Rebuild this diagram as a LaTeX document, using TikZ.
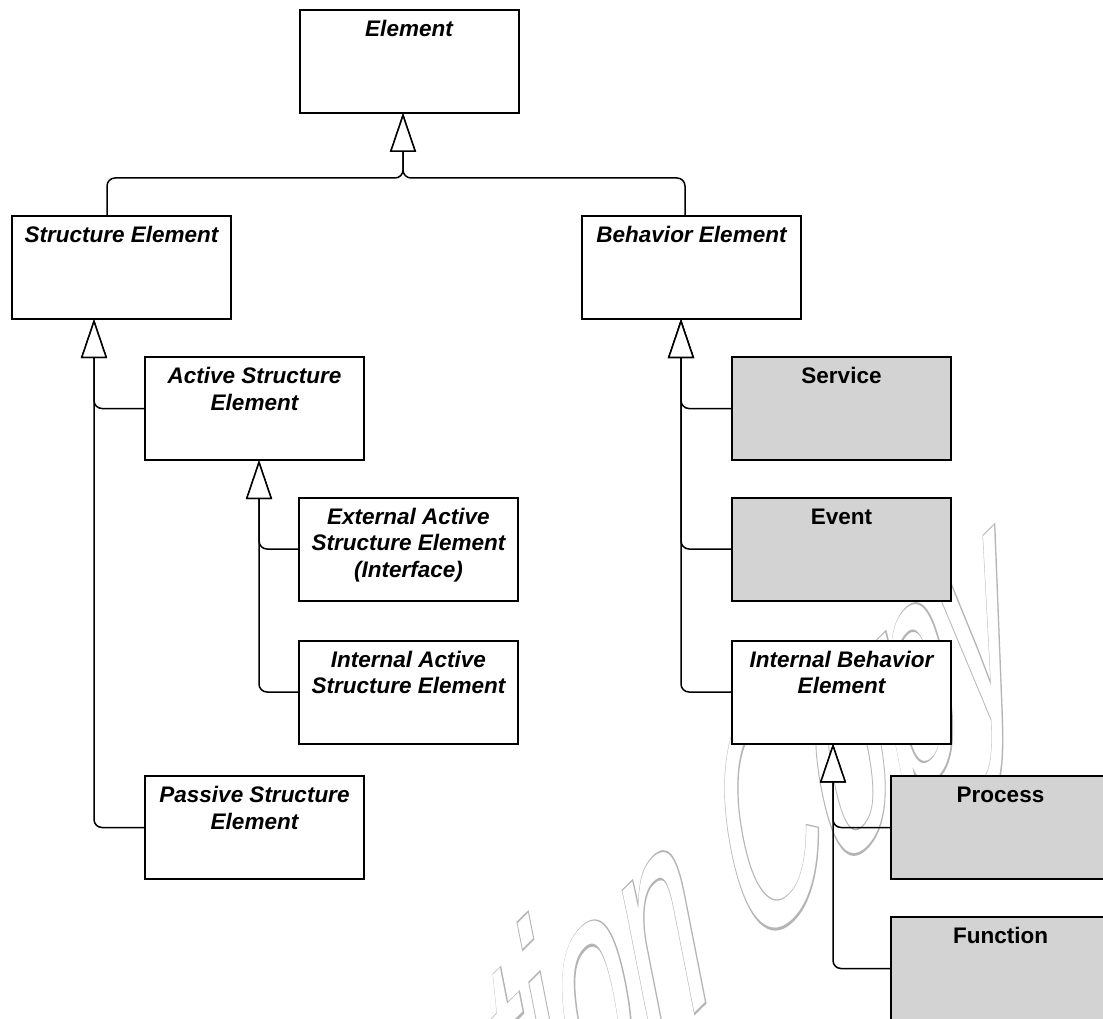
\documentclass[tikz,border=0pt]{standalone}
\usepackage{fontspec}
\setmainfont{Liberation Sans}
\usetikzlibrary{arrows.meta}

\definecolor{concretefill}{RGB}{211,211,211}
\definecolor{wmgray}{RGB}{180,180,180}

% watermark faces: a stroked (emboldened) one for the rim, a plain one for the inside
\font\wmthick="Liberation Sans:embolden=1.3" at 100pt
\font\wmthin="Liberation Sans" at 100pt

% class label: fixed-size box, text set at the top
\newcommand{\boxlabel}[1]{\parbox[c][103pt][t]{219pt}{\centering\vspace*{8.4pt}\strut #1\par}}

\tikzset{
  cls/.style={draw=black, line width=2pt, fill=white, inner sep=0pt, outer sep=0pt,
              font=\fontsize{22.5}{26.5}\selectfont\bfseries\itshape},
  abstractcls/.style={cls},
  concretecls/.style={cls, fill=concretefill, font=\fontsize{22.5}{26.5}\selectfont\bfseries},
  gen/.style={line width=1.5pt, rounded corners=8pt,
              -{Triangle[length=39pt,width=26pt,fill=white]}},
}

\begin{document}
\begin{tikzpicture}[x=1pt,y=-1pt]
\useasboundingbox (0,0) rectangle (1103,1019);
\clip (0,0) rectangle (1103,1019);

% watermark, outlined letters
\begin{scope}[shift={(1027,686)}]
  \pgftransformcm{1.2}{1.18}{-0.6}{3.05}{\pgfpointorigin}
  \node[transform shape, anchor=base east, inner sep=0pt] (wm) at (0,0)
    {\makebox[0pt][l]{\color{wmgray}\wmthick Evaluation Copy}{\color{white}\wmthin Evaluation Copy}};
\end{scope}

% classes
\node[abstractcls] (el)   at (409,61.5)    {\boxlabel{Element}};
\node[abstractcls] (se)   at (121.5,267.5) {\boxlabel{Structure Element}};
\node[abstractcls] (be)   at (691.5,267.5) {\boxlabel{Behavior Element}};
\node[abstractcls] (ase)  at (254.5,408.5) {\boxlabel{Active Structure\\Element}};
\node[abstractcls] (ease) at (408.5,549)   {\boxlabel{External Active\\Structure Element\\(Interface)}};
\node[abstractcls] (iase) at (408.5,692)   {\boxlabel{Internal Active\\Structure Element}};
\node[abstractcls] (pse)  at (254.5,827.5) {\boxlabel{Passive Structure\\Element}};
\node[concretecls] (svc)  at (841.5,408.5) {\boxlabel{Service}};
\node[concretecls] (evt)  at (841.5,549)   {\boxlabel{Event}};
\node[abstractcls] (ibe)  at (841.5,692)   {\boxlabel{Internal Behavior\\Element}};
\node[concretecls] (proc) at (1000.5,827.5) {\boxlabel{Process}};
\node[concretecls] (func) at (1000.5,968.5) {\boxlabel{Function}};

% generalization targets
\coordinate (el-g)  at ([xshift=-6pt]el.south);
\coordinate (el-j)  at ([yshift=-65pt]el-g);
\coordinate (se-g)  at ([xshift=-27.5pt]se.south);
\coordinate (be-g)  at ([xshift=-10.5pt]be.south);
\coordinate (ase-g) at ([xshift=4.5pt]ase.south);
\coordinate (ibe-g) at ([xshift=-8.5pt]ibe.south);

% generalizations
\draw[gen] ([xshift=95pt]se.north west) |- (el-j) -- (el-g);
\draw[gen] ([xshift=103pt]be.north west) |- (el-j) -- (el-g);
\draw[gen] (ase.west)  -| (se-g);
\draw[gen] (pse.west)  -| (se-g);
\draw[gen] (ease.west) -| (ase-g);
\draw[gen] (iase.west) -| (ase-g);
\draw[gen] (svc.west)  -| (be-g);
\draw[gen] (evt.west)  -| (be-g);
\draw[gen] (ibe.west)  -| (be-g);
\draw[gen] (proc.west) -| (ibe-g);
\draw[gen] (func.west) -| (ibe-g);
\end{tikzpicture}
\end{document}
